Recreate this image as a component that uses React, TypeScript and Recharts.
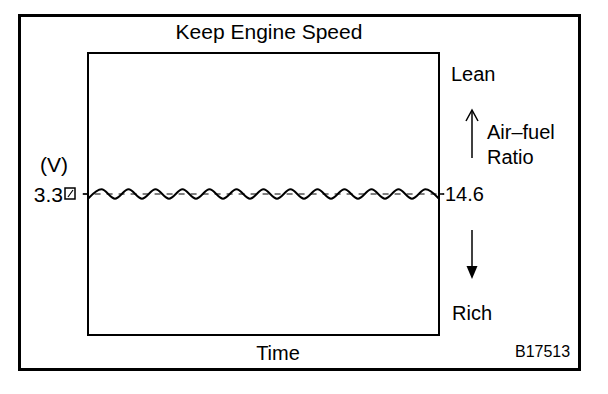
import { LineChart, Line, XAxis, YAxis, ReferenceLine, ReferenceArea } from "recharts";

// sensor output sampled at each half wave (peak / trough), volts
const time = [0, 1, 2, 3, 4, 5, 6, 7, 8, 9, 10, 11, 12, 13, 14, 15, 16, 17, 18, 19, 20, 21, 22, 23, 24, 25, 26];
const voltage = [
  3.29, 3.31, 3.29, 3.31, 3.29, 3.31, 3.29, 3.31, 3.29, 3.31, 3.29, 3.31, 3.29, 3.31,
  3.29, 3.31, 3.29, 3.31, 3.29, 3.31, 3.29, 3.31, 3.29, 3.31, 3.29, 3.31, 3.29,
];
const voltTicks = [3.3];
const ratioTicks = [14.6];
const stoichRatio = 14.6;

const data = time.map((t, i) => ({ t, v: voltage[i] }));

const FONT = '"Liberation Sans", Arial, Helvetica, sans-serif';
const INK = "#000";

function VoltTick({ x, y, payload }: any) {
  return (
    <g>
      <text x={x - 18} y={y} dy="0.36em" textAnchor="end" fontSize={21} fill={INK} fontFamily={FONT}>
        {payload.value}
      </text>
      <rect x={x - 16} y={y - 6} width={10} height={11} fill="#fff" stroke={INK} strokeWidth={1.5} />
      <line x1={x - 13} y1={y + 3} x2={x - 8} y2={y - 4} stroke={INK} strokeWidth={1.2} />
    </g>
  );
}

function RatioTick({ x, y, payload }: any) {
  return (
    <text x={x - 1} y={y} dy="0.36em" textAnchor="start" fontSize={20} fill={INK} fontFamily={FONT}>
      {Number(payload.value).toFixed(1)}
    </text>
  );
}

export default function App() {
  return (
    <div style={{ position: "absolute", left: 0, top: 0, width: 608, height: 394, background: "#fff" }}>
      <LineChart width={608} height={394} data={data} margin={{ top: 53, right: 109, bottom: 59, left: 20 }}>
        <XAxis dataKey="t" type="number" domain={[0, 26]} allowDataOverflow hide />
        <YAxis
          yAxisId="v"
          type="number"
          domain={[3.0, 3.6]}
          allowDataOverflow
          ticks={voltTicks}
          width={68}
          tickSize={5}
          tickLine={{ stroke: INK, strokeWidth: 1.5 }}
          axisLine={false}
          tick={<VoltTick />}
        />
        <YAxis
          yAxisId="afr"
          orientation="right"
          type="number"
          domain={[13.6, 15.6]}
          allowDataOverflow
          ticks={ratioTicks}
          width={60}
          tickSize={5}
          tickLine={{ stroke: INK, strokeWidth: 1.5 }}
          axisLine={false}
          tick={<RatioTick />}
        />
        <ReferenceArea
          yAxisId="v"
          x1={0}
          x2={26}
          y1={3.0}
          y2={3.6}
          fill="none"
          fillOpacity={0}
          stroke={INK}
          strokeWidth={2}
          ifOverflow="visible"
        />
        <ReferenceLine
          yAxisId="v"
          segment={[{ x: -0.4, y: 3.3 }, { x: 26.4, y: 3.3 }]}
          ifOverflow="visible"
          stroke={INK}
          strokeWidth={1}
          strokeDasharray="6 6"
        />
        <ReferenceLine yAxisId="afr" y={stoichRatio} stroke="none" />
        <Line
          yAxisId="v"
          dataKey="v"
          type="monotone"
          stroke={INK}
          strokeWidth={2}
          dot={false}
          isAnimationActive={false}
        />

        {/* frame and annotations */}
        <rect x={19.5} y={15.5} width={560} height={354} fill="none" stroke={INK} strokeWidth={3} />
        <g fontFamily={FONT} fill={INK}>
          <text x={269} y={39} fontSize={21} textAnchor="middle">Keep Engine Speed</text>
          <text x={40} y={172} fontSize={21}>(V)</text>
          <text x={451} y={81} fontSize={20}>Lean</text>
          <text x={487} y={139} fontSize={20}>Air–fuel</text>
          <text x={487} y={164} fontSize={20}>Ratio</text>
          <text x={452} y={320} fontSize={20}>Rich</text>
          <text x={278} y={360} fontSize={20} textAnchor="middle">Time</text>
          <text x={515} y={357} fontSize={16}>B17513</text>
        </g>
        <g stroke={INK} fill="none" strokeWidth={1.5}>
          <line x1={472} y1={111} x2={472} y2={158} />
          <path d="M466,121 L472,110 L478,121" />
          <line x1={472} y1={230} x2={472} y2={272} />
        </g>
        <path d="M466.5,266 L472,279 L477.5,266 Z" fill={INK} />
      </LineChart>
    </div>
  );
}
